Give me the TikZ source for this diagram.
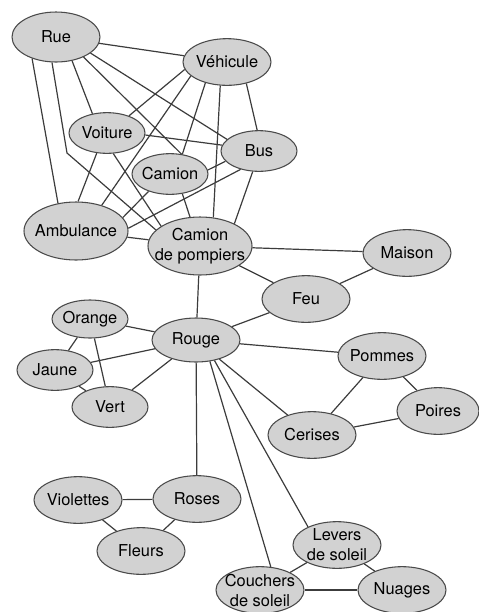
\documentclass[tikz,border=0pt]{standalone}
\usepackage{fontspec}
\usepackage{tikz}
\newfontfamily\conceptfont{TeX Gyre Heros}
\usetikzlibrary{shapes.geometric}
\definecolor{conceptfill}{HTML}{D2D2D2}
\definecolor{conceptline}{HTML}{4A4A4A}
\definecolor{linkline}{HTML}{3C3C3C}
\tikzset{concept/.style = {ellipse, draw=conceptline, line width=0.8pt, fill=conceptfill,
                           inner xsep=-20pt, inner ysep=-8pt, align=center,
                           minimum width=66pt, minimum height=35pt,
                           font=\conceptfont\fontsize{12.3}{15}\selectfont},
         small/.style = {concept, minimum width=57pt, minimum height=30.5pt},
         big/.style = {concept, minimum width=78pt, minimum height=43.5pt},
         link/.style = {draw=linkline, line width=0.9pt}}

\begin{document}
\begin{tikzpicture}[x=0.75pt, y=-0.75pt]
      \useasboundingbox (0, 0) rectangle (479, 612);
      \node [concept, minimum height=37.5pt] (rue) at (56, 37) {Rue};
      \node [concept] (vehicule) at (227, 62) {Véhicule};
      \node [small] (voiture) at (107, 133) {Voiture};
      \node [small] (bus) at (259, 151) {Bus};
      \node [small] (camion) at (170, 174) {Camion};
      \node [big] (ambulance) at (76, 231) {Ambulance};
      \node [big] (pompiers) at (200, 246) {Camion\\de pompiers};
      \node [concept] (maison) at (407, 253) {Maison};
      \node [concept] (feu) at (306, 299) {Feu};
      \node [small, minimum height=28.5pt] (orange) at (90, 319) {Orange};
      \node [concept, minimum height=33pt] (rouge) at (196, 340) {Rouge};
      \node [small] (jaune) at (55, 370) {Jaune};
      \node [small] (vert) at (110, 407) {Vert};
      \node [concept] (pommes) at (382, 356) {Pommes};
      \node [concept, minimum width=61.5pt] (poires) at (438, 411) {Poires};
      \node [concept] (cerises) at (312, 435) {Cerises};
      \node [concept] (violettes) at (78, 500) {Violettes};
      \node [concept] (roses) at (197, 499) {Roses};
      \node [concept] (fleurs) at (141, 551) {Fleurs};
      \node [concept] (levers) at (337, 545) {Levers\\de soleil};
      \node [concept] (couchers) at (260, 590) {Couchers\\de soleil};
      \node [concept] (nuages) at (402, 590) {Nuages};
      \coordinate (kink) at (67, 153);

      \draw [link] (rue) -- (vehicule);
      \draw [link] (rue.-25) -- (bus.160);
      \draw [link] (rue.-36) -- (camion.60);
      \draw [link] (rue.-56) -- (voiture.127);
      \draw [link] (rue.-138) -- (ambulance.123);
      \draw [link] (rue.-99) -- (kink) -- (pompiers.160);
      \draw [link] (vehicule.-170) -- (voiture.38);
      \draw [link] (vehicule.-159) -- (ambulance.45);
      \draw [link] (vehicule.-136) -- (camion.58);
      \draw [link] (vehicule.-106) -- (pompiers.65);
      \draw [link] (vehicule.-48) -- (bus.95);
      \draw [link] (voiture.-3) -- (bus.171);
      \draw [link] (voiture.-117) -- (ambulance.86);
      \draw [link] (voiture.-73) -- (pompiers.153);
      \draw [link] (camion.6) -- (bus.-163);
      \draw [link] (camion.-141) -- (ambulance.16);
      \draw [link] (bus.-135) -- (ambulance.3);
      \draw [link] (camion.-58) -- (pompiers.109);
      \draw [link] (bus.-107) -- (pompiers.33);
      \draw [link] (ambulance) -- (pompiers);
      \draw [link] (pompiers) -- (maison);
      \draw [link] (pompiers) -- (feu);
      \draw [link] (pompiers) -- (rouge);
      \draw [link] (feu) -- (maison);
      \draw [link] (feu) -- (rouge);
      \draw [link] (rouge) -- (orange);
      \draw [link] (rouge) -- (jaune);
      \draw [link] (rouge) -- (vert);
      \draw [link] (orange) -- (jaune);
      \draw [link] (orange) -- (vert);
      \draw [link] (jaune) -- (vert);
      \draw [link] (rouge) -- (pommes);
      \draw [link] (rouge) -- (cerises);
      \draw [link] (rouge) -- (roses);
      \draw [link] (rouge.-57) -- (couchers.65);
      \draw [link] (rouge.-48) -- (levers.148);
      \draw [link] (pommes) -- (poires);
      \draw [link] (pommes) -- (cerises);
      \draw [link] (cerises) -- (poires);
      \draw [link] (violettes) -- (roses);
      \draw [link] (violettes) -- (fleurs);
      \draw [link] (roses) -- (fleurs);
      \draw [link] (levers) -- (couchers);
      \draw [link] (levers) -- (nuages);
      \draw [link] (couchers) -- (nuages);
\end{tikzpicture}
\end{document}
